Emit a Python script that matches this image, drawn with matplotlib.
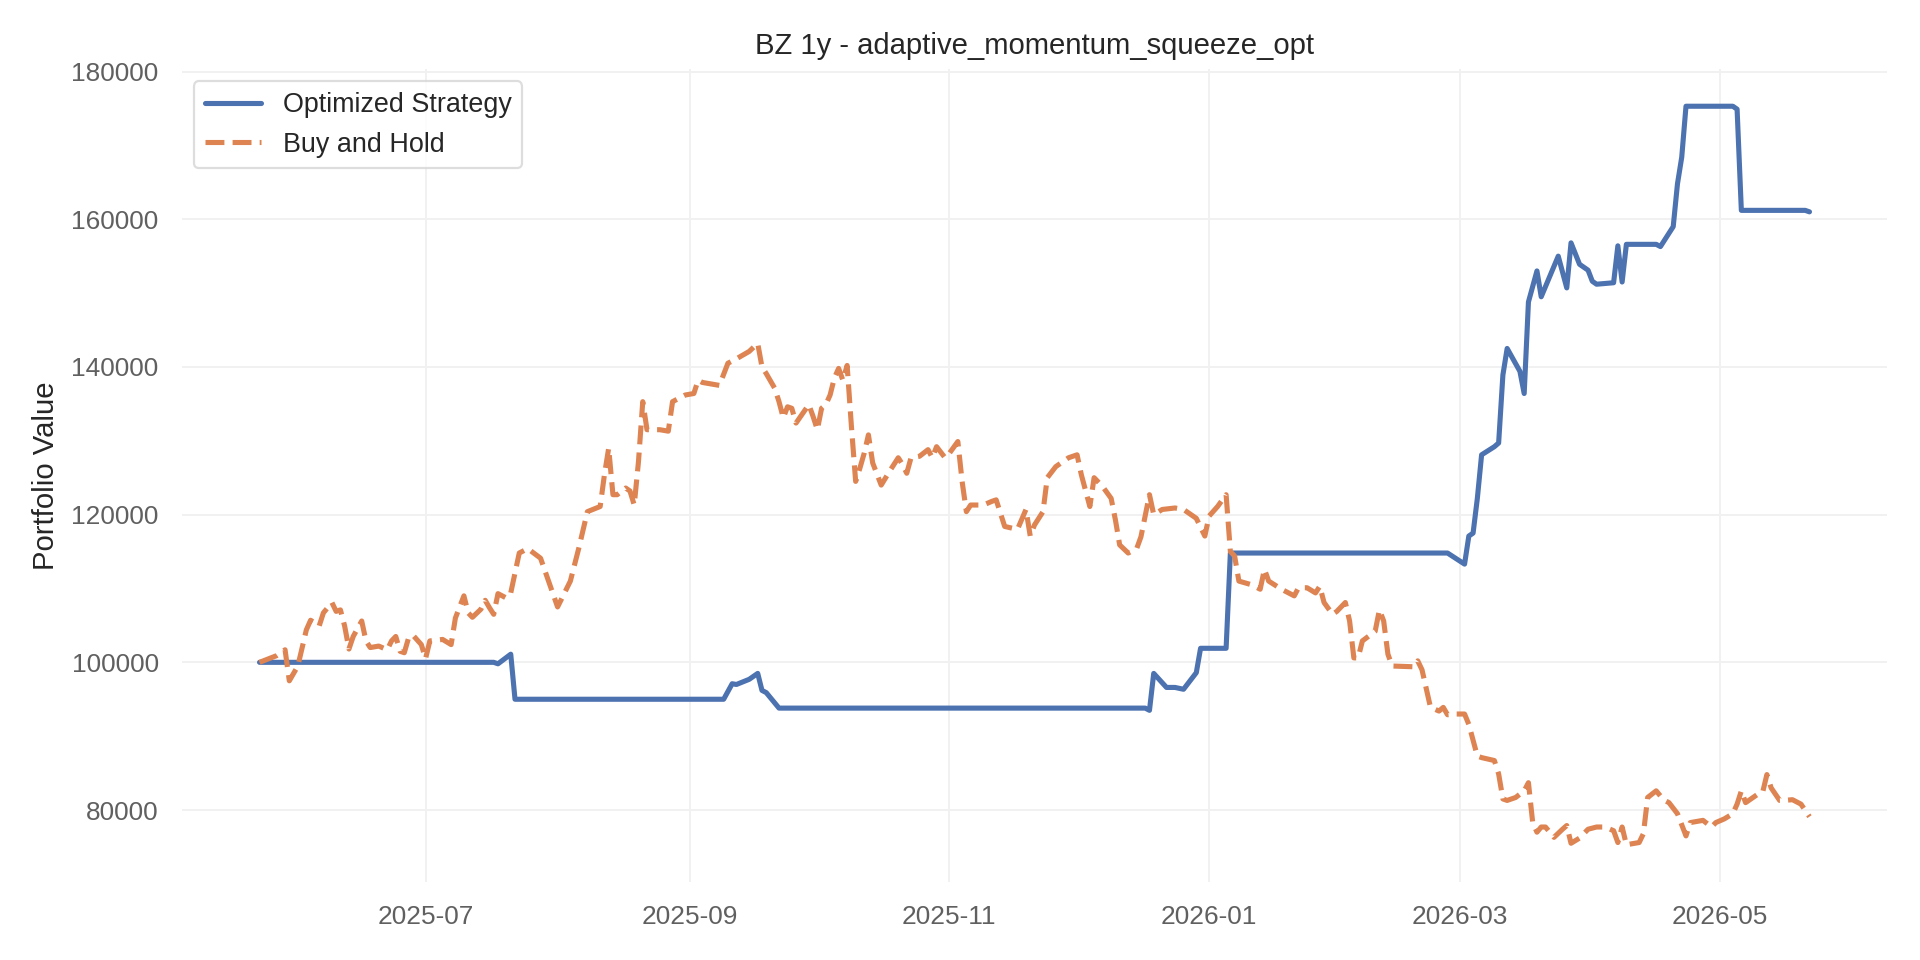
import matplotlib
matplotlib.use("Agg")
import matplotlib.pyplot as plt
import matplotlib.dates as mdates
import pandas as pd

# ---------------- data ----------------
title = "BZ 1y - adaptive_momentum_squeeze_opt"
ylabel = "Portfolio Value"
series_names = ["Optimized Strategy", "Buy and Hold"]

strategy_dates = [
    "2025-05-23", "2025-07-17", "2025-07-18", "2025-07-21", "2025-07-22",
    "2025-09-09", "2025-09-11", "2025-09-12", "2025-09-15", "2025-09-17",
    "2025-09-18", "2025-09-19", "2025-09-22", "2025-12-17", "2025-12-18",
    "2025-12-19", "2025-12-22", "2025-12-24", "2025-12-26", "2025-12-29",
    "2025-12-30", "2026-01-05", "2026-01-06", "2026-02-26", "2026-03-02",
    "2026-03-03", "2026-03-04", "2026-03-05", "2026-03-06", "2026-03-09",
    "2026-03-10", "2026-03-11", "2026-03-12", "2026-03-15", "2026-03-16",
    "2026-03-17", "2026-03-19", "2026-03-20", "2026-03-24", "2026-03-26",
    "2026-03-27", "2026-03-29", "2026-03-31", "2026-04-01", "2026-04-02",
    "2026-04-06", "2026-04-07", "2026-04-08", "2026-04-09", "2026-04-16",
    "2026-04-17", "2026-04-20", "2026-04-21", "2026-04-22", "2026-04-23",
    "2026-05-04", "2026-05-05", "2026-05-06", "2026-05-21", "2026-05-22",
]
strategy_values = [
    100000, 100000, 99800, 101100, 95000,
    95000, 97100, 97000, 97700, 98500,
    96200, 95900, 93800, 93800, 93500,
    98500, 96600, 96600, 96350, 98600,
    101900, 101900, 114800, 114800, 113300,
    117100, 117500, 122200, 128100, 129200,
    129700, 138900, 142500, 139400, 136400,
    148800, 153000, 149500, 155000, 150700,
    156800, 153900, 153100, 151600, 151200,
    151400, 156400, 151500, 156600, 156600,
    156300, 159000, 164800, 168400, 175300,
    175300, 174900, 161200, 161200, 161000,
]

hold_dates = [
    "2025-05-23", "2025-05-27", "2025-05-29", "2025-05-30", "2025-06-01",
    "2025-06-03", "2025-06-04", "2025-06-06", "2025-06-07", "2025-06-09",
    "2025-06-10", "2025-06-11", "2025-06-12", "2025-06-13", "2025-06-14",
    "2025-06-16", "2025-06-17", "2025-06-18", "2025-06-20", "2025-06-22",
    "2025-06-23", "2025-06-24", "2025-06-25", "2025-06-26", "2025-06-27",
    "2025-06-28", "2025-06-30", "2025-07-01", "2025-07-02", "2025-07-05",
    "2025-07-07", "2025-07-08", "2025-07-10", "2025-07-11", "2025-07-12",
    "2025-07-14", "2025-07-15", "2025-07-16", "2025-07-17", "2025-07-18",
    "2025-07-20", "2025-07-21", "2025-07-23", "2025-07-25", "2025-07-28",
    "2025-08-01", "2025-08-04", "2025-08-06", "2025-08-08", "2025-08-11",
    "2025-08-12", "2025-08-13", "2025-08-14", "2025-08-15", "2025-08-17",
    "2025-08-18", "2025-08-19", "2025-08-20", "2025-08-21", "2025-08-22",
    "2025-08-25", "2025-08-27", "2025-08-28", "2025-08-31", "2025-09-02",
    "2025-09-03", "2025-09-04", "2025-09-08", "2025-09-10", "2025-09-12",
    "2025-09-15", "2025-09-17", "2025-09-18", "2025-09-19", "2025-09-21",
    "2025-09-22", "2025-09-23", "2025-09-24", "2025-09-25", "2025-09-26",
    "2025-09-29", "2025-09-30", "2025-10-01", "2025-10-02", "2025-10-03",
    "2025-10-04", "2025-10-05", "2025-10-06", "2025-10-07", "2025-10-08",
    "2025-10-09", "2025-10-10", "2025-10-11", "2025-10-12", "2025-10-13",
    "2025-10-14", "2025-10-16", "2025-10-18", "2025-10-20", "2025-10-21",
    "2025-10-22", "2025-10-23", "2025-10-25", "2025-10-27", "2025-10-28",
    "2025-10-29", "2025-10-31", "2025-11-01", "2025-11-03", "2025-11-04",
    "2025-11-05", "2025-11-06", "2025-11-09", "2025-11-11", "2025-11-12",
    "2025-11-14", "2025-11-17", "2025-11-19", "2025-11-20", "2025-11-21",
    "2025-11-23", "2025-11-24", "2025-11-26", "2025-11-29", "2025-12-01",
    "2025-12-02", "2025-12-04", "2025-12-05", "2025-12-07", "2025-12-09",
    "2025-12-10", "2025-12-11", "2025-12-13", "2025-12-15", "2025-12-16",
    "2025-12-18", "2025-12-19", "2025-12-21", "2025-12-24", "2025-12-26",
    "2025-12-29", "2025-12-31", "2026-01-01", "2026-01-03", "2026-01-05",
    "2026-01-06", "2026-01-07", "2026-01-08", "2026-01-11", "2026-01-13",
    "2026-01-14", "2026-01-15", "2026-01-18", "2026-01-21", "2026-01-22",
    "2026-01-24", "2026-01-26", "2026-01-27", "2026-01-28", "2026-01-30",
    "2026-01-31", "2026-02-02", "2026-02-03", "2026-02-04", "2026-02-05",
    "2026-02-06", "2026-02-09", "2026-02-10", "2026-02-11", "2026-02-12",
    "2026-02-13", "2026-02-18", "2026-02-19", "2026-02-20", "2026-02-22",
    "2026-02-24", "2026-02-25", "2026-02-26", "2026-02-28", "2026-03-02",
    "2026-03-03", "2026-03-05", "2026-03-06", "2026-03-09", "2026-03-10",
    "2026-03-11", "2026-03-12", "2026-03-14", "2026-03-16", "2026-03-17",
    "2026-03-18", "2026-03-19", "2026-03-20", "2026-03-21", "2026-03-23",
    "2026-03-25", "2026-03-26", "2026-03-27", "2026-03-29", "2026-03-31",
    "2026-04-02", "2026-04-04", "2026-04-06", "2026-04-07", "2026-04-08",
    "2026-04-09", "2026-04-10", "2026-04-12", "2026-04-13", "2026-04-14",
    "2026-04-16", "2026-04-17", "2026-04-18", "2026-04-19", "2026-04-21",
    "2026-04-23", "2026-04-24", "2026-04-27", "2026-04-29", "2026-04-30",
    "2026-05-02", "2026-05-04", "2026-05-05", "2026-05-06", "2026-05-07",
    "2026-05-10", "2026-05-11", "2026-05-12", "2026-05-13", "2026-05-15",
    "2026-05-16", "2026-05-18", "2026-05-20", "2026-05-22",
]
hold_values = [
    100000, 100900, 101700, 97500, 99500,
    104400, 105700, 104900, 106700, 108100,
    106900, 107100, 104900, 101800, 103500,
    105600, 102900, 102000, 102200, 101700,
    102900, 103500, 101500, 101300, 103300,
    103700, 102400, 100500, 102900, 103100,
    102400, 106000, 109000, 106700, 106100,
    107200, 108400, 107400, 106500, 109300,
    108700, 109400, 114800, 115400, 114100,
    107500, 111000, 115500, 120400, 121100,
    125400, 129000, 122700, 122700, 123600,
    123200, 121300, 127200, 135300, 131500,
    131500, 131300, 135300, 136200, 136400,
    138200, 137900, 137500, 140500, 141100,
    142100, 143200, 140000, 139100, 137100,
    135300, 133100, 134600, 134400, 132400,
    134900, 133300, 131500, 134400, 134900,
    136200, 138500, 139800, 138200, 140200,
    132000, 124500, 126300, 128300, 130800,
    127000, 124000, 125900, 127700, 126800,
    125600, 127700, 127900, 128800, 127700,
    129200, 127700, 128300, 129900, 124500,
    120400, 121300, 121300, 121800, 122000,
    118400, 118000, 120700, 117100, 118600,
    120400, 125000, 126500, 127700, 128100,
    125400, 121100, 125000, 123800, 122200,
    119300, 115900, 114800, 115400, 117000,
    122700, 120000, 120700, 120900, 120700,
    119500, 117100, 119800, 121100, 122700,
    115000, 114400, 111000, 110500, 109900,
    112600, 111000, 109900, 109000, 110100,
    110100, 109400, 110300, 108100, 106500,
    106900, 108100, 105600, 100600, 100600,
    102900, 104200, 107100, 105600, 101100,
    99500, 99400, 100200, 99000, 93900,
    93400, 93900, 92900, 93000, 93000,
    91600, 87300, 87100, 86700, 84900,
    81500, 81300, 81700, 82600, 83700,
    78300, 77000, 77700, 77700, 76300,
    77400, 77900, 75500, 76200, 77400,
    77700, 77700, 77200, 75600, 77700,
    75300, 75400, 75600, 76800, 81700,
    82600, 81900, 81300, 81000, 79500,
    76500, 78300, 78600, 77700, 78300,
    78800, 79500, 80800, 82600, 81000,
    82200, 82400, 84800, 83000, 81300,
    81300, 81400, 80800, 79100,
]

# ---------------- styling ----------------
plt.rcParams["font.family"] = ["Liberation Sans", "DejaVu Sans"]

fig = plt.figure(figsize=(12, 6), dpi=160)
ax = fig.add_axes([0.0948, 0.0816, 0.888, 0.8462])

blue = "#4c72b0"
orange = "#dd8452"

ax.plot(pd.to_datetime(strategy_dates), strategy_values, color=blue,
        linewidth=2.3, label=series_names[0], solid_joinstyle="round",
        solid_capstyle="round")
ax.plot(pd.to_datetime(hold_dates), hold_values, color=orange,
        linewidth=2.3, linestyle="--", label=series_names[1])

ax.set_title(title, fontsize=13.2, color="#262626", pad=7)
ax.set_ylabel(ylabel, fontsize=13.2, color="#262626", labelpad=5)

for s in ax.spines.values():
    s.set_visible(False)
ax.grid(True, color="#f1f1f1", linewidth=0.9)
ax.set_axisbelow(True)
ax.tick_params(axis="both", length=0, labelsize=11.8, labelcolor="#606060", pad=10.5)

ax.xaxis.set_major_locator(mdates.MonthLocator(bymonth=[1, 3, 5, 7, 9, 11]))
ax.xaxis.set_major_formatter(mdates.DateFormatter("%Y-%m"))
ax.yaxis.set_major_locator(matplotlib.ticker.MultipleLocator(20000))

leg = ax.legend(loc="upper left", fontsize=12.1, frameon=True, fancybox=True,
                borderpad=0.4, handlelength=2.1, borderaxespad=0.45)
leg.get_frame().set_edgecolor("#d5d5d5")
leg.get_frame().set_linewidth(1.0)
for t in leg.get_texts():
    t.set_color("#262626")

fig.savefig("out.png", dpi=160, facecolor="white")
